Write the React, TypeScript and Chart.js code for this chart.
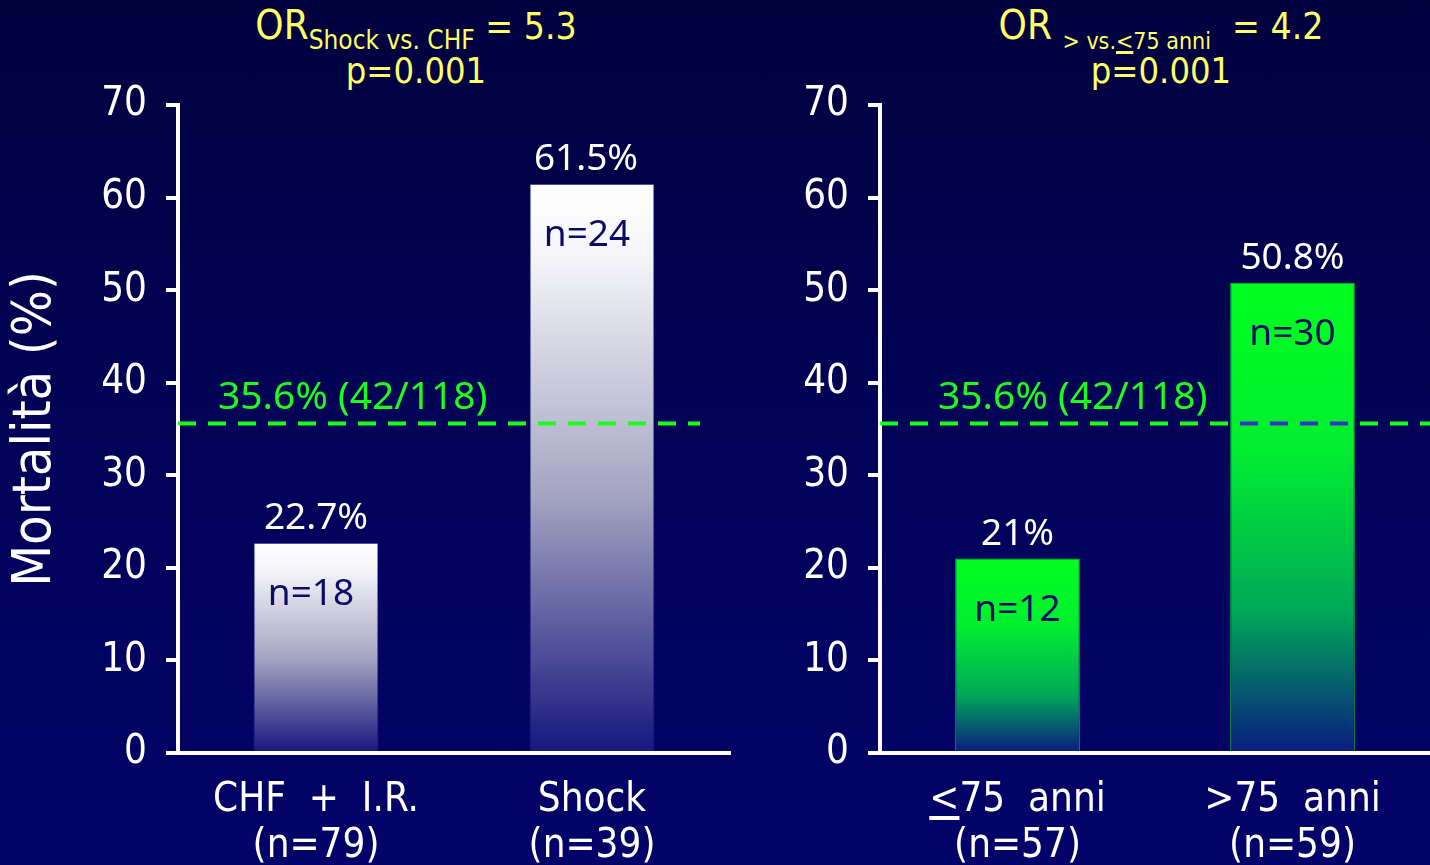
import React, { useEffect, useRef } from "react";
import { Chart, registerables } from "chart.js";

Chart.register(...registerables);

// ---- data ----
const yTickValues = [0, 10, 20, 30, 40, 50, 60, 70];

const shockCategories = [["CHF  +  I.R.", "(n=79)"], ["Shock", "(n=39)"]];
const shockMortality = [22.7, 61.5];
const shockDeaths = [18, 24];

const ageCategories = [["<75  anni", "(n=57)"], [">75  anni", "(n=59)"]];
const ageMortality = [21, 50.8];
const ageDeaths = [12, 30];

const overallMortality = 35.6;
const overallLabel = "35.6% (42/118)";

// ---- styling ----
const TAHOMA = '"DejaVu Sans Condensed", "DejaVu Sans", sans-serif';
const ROUNDED = '"Noto Sans", Roboto, sans-serif';
const YELLOW = "#ffff66";
const GREEN = "#1cff1c";

const whiteStops: [number, string][] = [
  [0, "#ffffff"],
  [0.12, "#f6f6fa"],
  [0.55, "#a4a4c2"],
  [1, "#16167e"],
];
const greenStops: [number, string][] = [
  [0, "#00ff1e"],
  [0.35, "#00ee30"],
  [0.7, "#00a858"],
  [1, "#0a1a80"],
];

function gradientFill(stops: [number, string][], fallback: string) {
  return (c: any) => {
    const chart = c.chart;
    const { chartArea, scales } = chart;
    if (!chartArea || c.type !== "data" || !scales.y) return fallback;
    const top = scales.y.getPixelForValue(c.parsed.y);
    const bottom = scales.y.getPixelForValue(0);
    const g = chart.ctx.createLinearGradient(0, top, 0, bottom);
    stops.forEach(([o, col]) => g.addColorStop(o, col));
    return g;
  };
}

// Reference line, its label, and the value / count labels on each bar
const barAnnotations = {
  id: "barAnnotations",
  afterDatasetsDraw(chart: any, _args: any, opts: any) {
    const { ctx, chartArea, scales } = chart;
    const lineY = scales.y.getPixelForValue(opts.reference);
    const xEnd = chartArea.right - (opts.lineTrimRight || 0);
    const meta = chart.getDatasetMeta(0);

    ctx.save();
    ctx.lineWidth = 4;
    ctx.setLineDash([18, 12]);
    ctx.strokeStyle = GREEN;
    ctx.beginPath();
    ctx.moveTo(chartArea.left, lineY);
    ctx.lineTo(xEnd, lineY);
    ctx.stroke();

    if (opts.overBarColor) {
      meta.data.forEach((bar: any) => {
        const p = bar.getProps(["x", "y", "base", "width"], true);
        ctx.save();
        ctx.beginPath();
        ctx.rect(p.x - p.width / 2, p.y, p.width, p.base - p.y);
        ctx.clip();
        ctx.strokeStyle = opts.overBarColor;
        ctx.beginPath();
        ctx.moveTo(chartArea.left, lineY);
        ctx.lineTo(xEnd, lineY);
        ctx.stroke();
        ctx.restore();
      });
    }
    ctx.setLineDash([]);

    ctx.font = `39px ${ROUNDED}`;
    ctx.fillStyle = GREEN;
    ctx.textAlign = "left";
    ctx.textBaseline = "alphabetic";
    ctx.fillText(opts.referenceLabel, chartArea.left + opts.labelOffsetX, lineY - 14);

    ctx.font = `37px ${ROUNDED}`;
    ctx.textAlign = "center";
    meta.data.forEach((bar: any, i: number) => {
      const v = chart.data.datasets[0].data[i];
      ctx.fillStyle = "#ffffff";
      ctx.fillText(`${v}%`, bar.x + (opts.valueShiftX?.[i] || 0), bar.y - 14);
      ctx.fillStyle = "#0c0c66";
      ctx.fillText(`n=${opts.counts[i]}`, bar.x + opts.countShiftX, bar.y + 62);
    });
    ctx.restore();
  },
  afterDraw(chart: any, _args: any, opts: any) {
    if (opts.underlineTick == null) return;
    const { ctx } = chart;
    const xs = chart.scales.x;
    const text = chart.data.labels[opts.underlineTick][0];
    ctx.save();
    ctx.font = `40px ${TAHOMA}`;
    const w = ctx.measureText(text).width;
    const cw = ctx.measureText(text[0]).width;
    const cx = xs.getPixelForTick(opts.underlineTick);
    ctx.fillStyle = "#ffffff";
    ctx.fillRect(cx - w / 2, xs.top + 63, cw, 4);
    ctx.restore();
  },
};

function makeConfig(
  labels: string[][],
  values: number[],
  counts: number[],
  stops: [number, string][],
  fallback: string,
  border: string,
  axisWidth: number,
  showTitle: boolean,
  annot: any
): any {
  return {
    type: "bar",
    data: {
      labels,
      datasets: [
        {
          data: values,
          backgroundColor: gradientFill(stops, fallback),
          borderColor: border,
          borderWidth: 1,
          barPercentage: 0.453,
          categoryPercentage: 1,
        },
      ],
    },
    options: {
      responsive: false,
      animation: false,
      devicePixelRatio: 1,
      layout: { padding: { top: 105, left: 0, right: annot.padRight, bottom: 0 } },
      plugins: {
        legend: { display: false },
        tooltip: { enabled: false },
        barAnnotations: { ...annot, counts },
      },
      scales: {
        x: {
          grid: { display: false },
          border: { color: "#ffffff", width: 4 },
          ticks: {
            color: "#ffffff",
            font: { family: TAHOMA, size: 40, lineHeight: 1.15 },
            padding: 17,
            maxRotation: 0,
            autoSkip: false,
          },
          afterFit: (s: any) => {
            s.height = 112;
          },
        },
        y: {
          min: 0,
          max: 70,
          afterBuildTicks: (s: any) => {
            s.ticks = yTickValues.map((v) => ({ value: v }));
          },
          grid: { drawOnChartArea: false, color: "#ffffff", lineWidth: 4, tickLength: 12 },
          border: { color: "#ffffff", width: 4 },
          ticks: {
            color: "#ffffff",
            font: { family: TAHOMA, size: 40 },
            padding: 19,
          },
          title: {
            display: showTitle,
            text: "Mortalità (%)",
            color: "#ffffff",
            font: { family: TAHOMA, size: 54 },
            padding: { top: 4, bottom: 0 },
          },
          afterFit: (s: any) => {
            s.width = axisWidth;
          },
        },
      },
    },
    plugins: [barAnnotations],
  };
}

function BarPanel({ left, width, config }: { left: number; width: number; config: any }) {
  const ref = useRef<HTMLCanvasElement | null>(null);
  useEffect(() => {
    if (!ref.current) return;
    const chart = new Chart(ref.current, config);
    return () => chart.destroy();
  }, [config]);
  return (
    <canvas
      ref={ref}
      width={width}
      height={865}
      style={{ position: "absolute", left, top: 0, width, height: 865 }}
    />
  );
}

const shockConfig = makeConfig(
  shockCategories,
  shockMortality,
  shockDeaths,
  whiteStops,
  "#ffffff",
  "#1a1a8c",
  178,
  true,
  {
    reference: overallMortality,
    referenceLabel: overallLabel,
    labelOffsetX: 40,
    lineTrimRight: 30,
    padRight: 10,
    countShiftX: -5,
    valueShiftX: [0, -6],
  }
);

const ageConfig = makeConfig(
  ageCategories,
  ageMortality,
  ageDeaths,
  greenStops,
  "#00ff1e",
  "#00c83a",
  180,
  false,
  {
    reference: overallMortality,
    referenceLabel: overallLabel,
    labelOffsetX: 58,
    lineTrimRight: 0,
    padRight: 0,
    countShiftX: 0,
    overBarColor: "#3434c6",
    underlineTick: 0,
  }
);

const titleLine: React.CSSProperties = {
  position: "absolute",
  width: 600,
  textAlign: "center",
  color: YELLOW,
  fontFamily: TAHOMA,
  fontSize: 37,
  lineHeight: "46px",
  whiteSpace: "pre",
};
const big: React.CSSProperties = { fontSize: 40 };
const sub: React.CSSProperties = { fontSize: 26, position: "relative", top: 10 };
const subSmall: React.CSSProperties = { fontSize: 23, position: "relative", top: 10 };

export default function App() {
  return (
    <div
      style={{
        position: "fixed",
        left: 0,
        top: 0,
        width: 1430,
        height: 865,
        overflow: "hidden",
        background: "linear-gradient(180deg, #01013e 0%, #02025a 55%, #030369 100%)",
      }}
    >
      <div style={{ ...titleLine, left: 416 - 300, top: 2 }}>
        <span style={big}>OR</span>
        <span style={sub}>Shock vs. CHF</span> = 5.3
      </div>
      <div style={{ ...titleLine, left: 416 - 300, top: 48, fontSize: 36 }}>p=0.001</div>
      <div style={{ ...titleLine, left: 1161 - 300, top: 2 }}>
        <span style={big}>OR</span> <span style={subSmall}>
          {"> vs."}
          <span style={{ textDecoration: "underline", textDecorationThickness: 3 }}>{"<"}</span>
          {"75 anni"}
        </span>{"  "}
        = 4.2
      </div>
      <div style={{ ...titleLine, left: 1161 - 300, top: 48, fontSize: 36 }}>p=0.001</div>
      <BarPanel left={0} width={740} config={shockConfig} />
      <BarPanel left={700} width={730} config={ageConfig} />
    </div>
  );
}
